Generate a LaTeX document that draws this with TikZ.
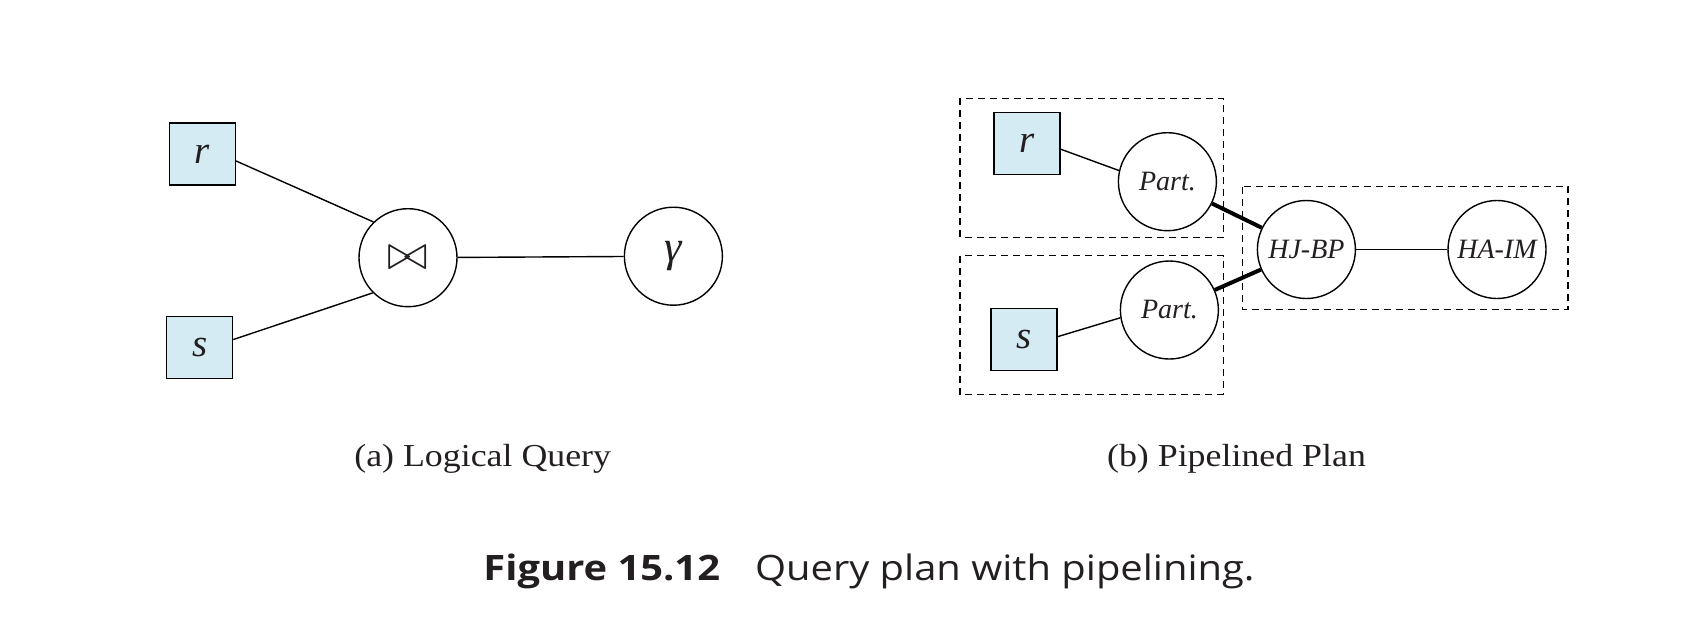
\documentclass[tikz,border=0pt]{standalone}
\usepackage{fontspec}
\setmainfont{Liberation Serif}
\newfontfamily\labfont[FakeStretch=1.12]{Liberation Serif}
\newfontfamily\capfont[FakeStretch=1.14]{Open Sans}
\usetikzlibrary{shapes.geometric}
\definecolor{relblue}{RGB}{213,235,243}
\definecolor{ink}{RGB}{35,31,32}
\begin{document}
\begin{tikzpicture}[x=0.5pt,y=-0.5pt,
  rel/.style={draw, fill=relblue, line width=0.7pt, minimum width=33pt, minimum height=31pt, inner sep=0pt, text=ink, font=\fontsize{19.5}{20}\selectfont\itshape},
  op/.style={draw, circle, line width=0.7pt, minimum size=49pt, inner sep=0pt, text=ink, font=\fontsize{14}{15}\selectfont\itshape},
  edge/.style={line width=0.7pt},
  pipe/.style={line width=2pt},
  stagebox/.style={line width=0.7pt, dash pattern=on 3.5pt off 2.5pt},
  sublabel/.style={anchor=base, inner sep=0pt, text=ink, font=\labfont\fontsize{16}{18}\selectfont},
  caption/.style={anchor=base, inner sep=0pt, text=ink, font=\capfont\fontsize{17.5}{20}\selectfont}
]
\useasboundingbox (0,0) rectangle (1682,634);

% (a) Logical Query
\node[rel] (r) at (202.2,153.9) {r};
\node[rel] (s) at (199.6,347.5) {s};
\node[op] (join) at (408,257.7) {\fontsize{25}{25}\selectfont$\bowtie$};
\node[op, font=\fontsize{22}{22}\selectfont\itshape] (gamma) at (673.4,256.2) {γ};
\draw[edge] ([yshift=-3.5pt]r.east) -- (join.134);
\draw[edge] ([yshift=4pt]s.east) -- (join.225);
\draw[edge] (join) -- (gamma);

% (b) Pipelined Plan
\draw[stagebox] (960,98.3) rectangle (1223.2,237.7);
\draw[stagebox] (960,255.7) rectangle (1223.2,394.3);
\draw[stagebox] (1242.5,186.7) rectangle (1567.9,309.3);
\node[rel] (r2) at (1027,143.2) {r};
\node[rel] (s2) at (1023.8,339.2) {s};
\node[op] (p1) at (1167.4,181.7) {Part.};
\node[op] (p2) at (1169.4,310) {Part.};
\node[op] (hj) at (1306.4,249.5) {HJ-BP};
\node[op] (ha) at (1497,249.5) {HA-IM};
\draw[edge] ([yshift=-3pt]r2.east) -- (p1.167);
\draw[edge] ([yshift=1.25pt]s2.east) -- (p2.189);
\draw[pipe] (p1) -- (hj);
\draw[pipe] (p2) -- (hj);
\draw[edge] (hj) -- (ha);

% labels
\node[sublabel] (la) at (482.7,466) {(a) Logical Query};
\node[sublabel] (lb) at (1236.5,466) {(b) Pipelined Plan};
\node[caption] (cap) at (869,580) {\textbf{Figure 15.12}\hspace{1em}Query plan with pipelining.};
\end{tikzpicture}
\end{document}
